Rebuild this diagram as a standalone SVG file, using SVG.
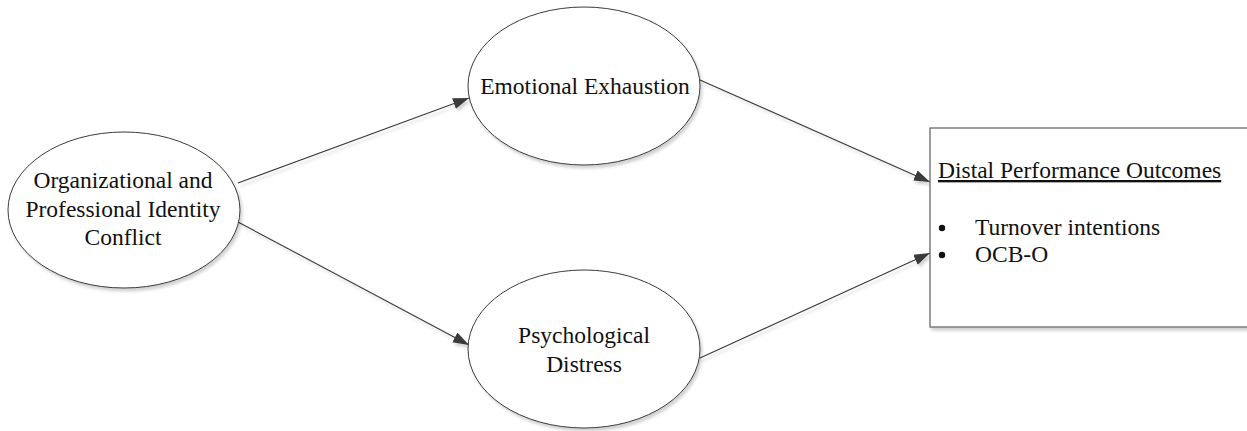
<svg xmlns="http://www.w3.org/2000/svg" width="1247" height="431" viewBox="0 0 1247 431">
<style>
.node{fill:#fff;stroke:#3a3a3a;stroke-width:1}
.box{fill:#fff;stroke:#6a6a6a;stroke-width:1.3}
.lbl{font-family:"Liberation Serif","Times New Roman",serif;font-size:23.5px;fill:#111;text-anchor:middle}
.lft{font-family:"Liberation Serif","Times New Roman",serif;font-size:23.5px;fill:#111}
.edge{stroke:#3a3a3a;stroke-width:1.1;fill:none;marker-end:url(#arr)}
</style>
<defs>
<filter id="sh" x="-10%" y="-10%" width="130%" height="130%">
<feDropShadow dx="2" dy="3" stdDeviation="1.5" flood-color="#000" flood-opacity="0.18"/>
</filter>
<marker id="arr" markerUnits="userSpaceOnUse" markerWidth="18" markerHeight="12" refX="16" refY="5.5" orient="auto">
<path d="M0,0 L16,5.5 L0,11 z" fill="#3a3a3a"/>
</marker>
</defs>
<rect width="1247" height="431" fill="#fff"/>
<g id="connectors" filter="url(#sh)">
<line class="edge" x1="238" y1="183" x2="469" y2="98"/>
<line class="edge" x1="238" y1="222" x2="469" y2="345"/>
<line class="edge" x1="700" y1="80" x2="930" y2="182"/>
<line class="edge" x1="700" y1="358" x2="930" y2="253"/>
</g>
<g id="identity-conflict">
<ellipse class="node" filter="url(#sh)" cx="124" cy="210" rx="116" ry="78"/>
<text class="lbl" x="123" y="188">Organizational and</text>
<text class="lbl" x="123" y="217">Professional Identity</text>
<text class="lbl" x="123" y="245">Conflict</text>
</g>
<g id="emotional-exhaustion">
<ellipse class="node" filter="url(#sh)" cx="584" cy="86" rx="116" ry="79"/>
<text class="lbl" x="585" y="94">Emotional Exhaustion</text>
</g>
<g id="psychological-distress">
<ellipse class="node" filter="url(#sh)" cx="584" cy="349" rx="116" ry="79"/>
<text class="lbl" x="584" y="343">Psychological</text>
<text class="lbl" x="584" y="372">Distress</text>
</g>
<g id="outcomes">
<rect class="box" filter="url(#sh)" x="930" y="128" width="330" height="199"/>
<text class="lft" x="938" y="178" text-decoration="underline">Distal Performance Outcomes</text>
<circle cx="942" cy="228" r="3.2" fill="#111"/>
<text class="lft" x="975" y="235">Turnover intentions</text>
<circle cx="942" cy="255" r="3.2" fill="#111"/>
<text class="lft" x="975" y="262">OCB-O</text>
</g>
</svg>
